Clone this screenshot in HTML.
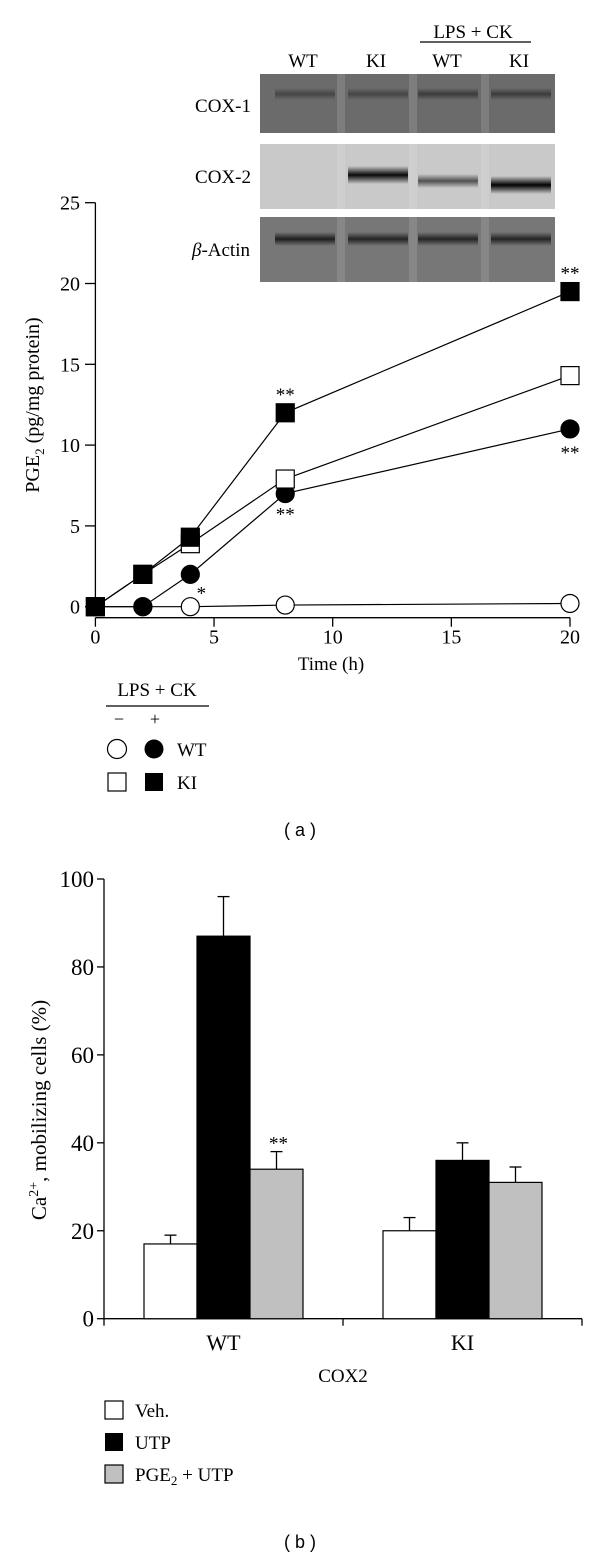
<!DOCTYPE html>
<html><head><meta charset="utf-8"><style>
body{margin:0;background:#fff;}
svg{display:block;font-family:"Liberation Serif",serif;}
</style></head><body>
<svg width="600" height="1563" viewBox="0 0 600 1563">
<defs>
<linearGradient id="lg" x1="0" y1="0" x2="0" y2="1"><stop offset="0" stop-color="#000" stop-opacity="0"/><stop offset="0.5" stop-color="#000" stop-opacity="1"/><stop offset="1" stop-color="#000" stop-opacity="0"/></linearGradient>
<clipPath id="bclip"><rect x="260" y="74" width="295" height="208"/></clipPath>
</defs>
<g id="blots">
<text x="473" y="38" font-size="19" text-anchor="middle">LPS + CK</text>
<line x1="420" y1="42" x2="531" y2="42" stroke="#000" stroke-width="1.2"/>
<text x="303" y="67" font-size="19" text-anchor="middle">WT</text>
<text x="376" y="67" font-size="19" text-anchor="middle">KI</text>
<text x="447" y="67" font-size="19" text-anchor="middle">WT</text>
<text x="519" y="67" font-size="19" text-anchor="middle">KI</text>
<text x="251" y="112" font-size="19" text-anchor="end">COX-1</text>
<text x="251" y="183" font-size="19" text-anchor="end">COX-2</text>
<text x="250" y="256" font-size="19" text-anchor="end"><tspan font-style="italic">β</tspan>-Actin</text>
<rect x="260" y="74" width="295" height="59" fill="#6b6b6b"/>
<rect x="260" y="144" width="295" height="65" fill="#c9c9c9"/>
<rect x="260" y="217" width="295" height="65" fill="#777"/>
<g id="bands" clip-path="url(#bclip)"></g>
</g>
<g id="line-chart"></g>
<g>
<text x="157" y="696" font-size="19" text-anchor="middle">LPS + CK</text>
<line x1="106" y1="706" x2="209" y2="706" stroke="#000" stroke-width="1.2"/>
<text x="119" y="725" font-size="18" text-anchor="middle">−</text>
<text x="155" y="725" font-size="18" text-anchor="middle">+</text>
<circle cx="117" cy="749" r="9.5" fill="#fff" stroke="#000" stroke-width="1.2"/>
<circle cx="154" cy="749" r="9.5" fill="#000"/>
<text x="177" y="756" font-size="19">WT</text>
<rect x="108" y="773" width="18" height="18" fill="#fff" stroke="#000" stroke-width="1.2"/>
<rect x="145" y="773" width="18" height="18" fill="#000"/>
<text x="177" y="789" font-size="19">KI</text>
</g>
<text x="300" y="836" font-size="18" text-anchor="middle" font-family="Liberation Sans, sans-serif">( a )</text>
<g id="bar-chart"></g>
<g>
<rect x="105" y="1401" width="18" height="18" fill="#fff" stroke="#000" stroke-width="1.2"/>
<text x="135" y="1417" font-size="19">Veh.</text>
<rect x="105" y="1433" width="18" height="18" fill="#000"/>
<text x="135" y="1449" font-size="19">UTP</text>
<rect x="105" y="1465" width="18" height="18" fill="#c0c0c0" stroke="#000" stroke-width="1.2"/>
<text x="135" y="1481" font-size="19">PGE<tspan font-size="13" dy="4">2</tspan><tspan dy="-4"> + UTP</tspan></text>
</g>
<text x="300" y="1548" font-size="18" text-anchor="middle" font-family="Liberation Sans, sans-serif">( b )</text>
</svg>
<script>
const NS="http://www.w3.org/2000/svg";
function mk(tag,attrs,parent){const e=document.createElementNS(NS,tag);for(const k in attrs)e.setAttribute(k,attrs[k]);parent.appendChild(e);return e;}
// blot bands
const laneX=[305,378,448,521];
const cox1Int=[0.35,0.35,0.45,0.45];
const cox2Int=[0.08,0.95,0.6,1.0];
const actinInt=[0.75,0.7,0.7,0.7];
const bands=document.getElementById('bands');
function band(cx,y,h,op,name){const b=mk('rect',{x:cx-30,y:y,width:60,height:h,fill:'url(#lg)',opacity:op},bands);

}
laneX.forEach((x,i)=>{band(x,88,12,cox1Int[i],'cox1-band');band(x,[0,176,184,186][i]-10,18-(i==2?4:0),cox2Int[i],'cox2-band');band(x,232,14,actinInt[i],'actin-band');});
[341,413,485].forEach(x=>{mk('rect',{x:x-4,y:74,width:8,height:208,fill:'#fff',opacity:0.12},bands);});

// line chart
const times=[0,2,4,8,20];
const wtVeh=[0,0,0,0.1,0.2];
const wtLps=[0,0,2,7,11];
const kiVeh=[0,2,3.9,7.9,14.3];
const kiLps=[0,2,4.3,12,19.5];
const yTicksA=[0,5,10,15,20,25];
const xTicksA=[0,5,10,15,20];
const lc=document.getElementById('line-chart');
const X=t=>95.4+t*(570-95.4)/20;
const Y=v=>606.7-v*(606.7-202.7)/25;
const AX=Y(0)+11;
let ax=mk('line',{x1:95.4,y1:Y(25),x2:95.4,y2:Y(0),stroke:'#000','stroke-width':1.3},lc);


let axx=mk('line',{x1:95.4,y1:AX,x2:X(20),y2:AX,stroke:'#000','stroke-width':1.3},lc);


yTicksA.forEach(v=>{mk('line',{x1:85,y1:Y(v),x2:95.4,y2:Y(v),stroke:'#000','stroke-width':1.3},lc);
const t=mk('text',{x:80,y:Y(v)+7,'font-size':20,'text-anchor':'end'},lc);t.textContent=v;

});
xTicksA.forEach(v=>{mk('line',{x1:X(v),y1:AX,x2:X(v),y2:AX+9,stroke:'#000','stroke-width':1.3},lc);
const t=mk('text',{x:X(v),y:AX+26,'font-size':20,'text-anchor':'middle'},lc);t.textContent=v;

});
let xt=mk('text',{x:331,y:670,'font-size':19,'text-anchor':'middle'},lc);xt.textContent='Time (h)';


let yt=mk('text',{x:0,y:0,'font-size':20,'text-anchor':'middle',transform:'translate(39,405) rotate(-90)'},lc);
yt.innerHTML='PGE<tspan font-size="13" dy="5">2</tspan><tspan dy="-5"> (pg/mg protein)</tspan>';


function series(vals,shape,fill,name){
 const pts=times.map((t,i)=>X(t)+','+Y(vals[i])).join(' ');
 const pl=mk('polyline',{points:pts,fill:'none',stroke:'#000','stroke-width':1.2},lc);
 
 
 return ()=>times.forEach((t,i)=>{let m;
  if(shape==='c')m=mk('circle',{cx:X(t),cy:Y(vals[i]),r:9,fill:fill,stroke:'#000','stroke-width':1.2},lc);
  else m=mk('rect',{x:X(t)-9,y:Y(vals[i])-9,width:18,height:18,fill:fill,stroke:'#000','stroke-width':1.2},lc);
  
  });
}
const d1=series(wtVeh,'c','#fff','wt-vehicle');
const d2=series(kiVeh,'s','#fff','ki-vehicle');
const d3=series(wtLps,'c','#000','wt-lps-ck');
const d4=series(kiLps,'s','#000','ki-lps-ck');
d1();d3();d2();d4();
function star(x,y,s,name){const t=mk('text',{x:x,y:y,'font-size':19,'text-anchor':'middle'},lc);t.textContent=s;

}
star(X(8),Y(kiLps[3])-12,'**','sig-ki-8h');
star(X(20),Y(kiLps[4])-12,'**','sig-ki-20h');
star(X(8),Y(wtLps[3])+27,'**','sig-wt-8h');
star(X(20),Y(wtLps[4])+30,'**','sig-wt-20h');
star(X(4)+11,Y(wtLps[2])+25,'*','sig-wt-4h');

// bar chart
const groups=['WT','KI'];
const vehVals=[17,20];
const utpVals=[87,36];
const pgeVals=[34,31];
const vehErr=[2,3];
const utpErr=[9,4];
const pgeErr=[4,3.5];
const yTicksB=[0,20,40,60,80,100];
const bc=document.getElementById('bar-chart');
const BY=v=>1318.7-v*(1318.7-879)/100;
const groupStart=[144,383];
const bw=53;
let bax=mk('line',{x1:104,y1:BY(100),x2:104,y2:BY(0),stroke:'#000','stroke-width':1.3},bc);


let bxx=mk('line',{x1:104,y1:BY(0),x2:582,y2:BY(0),stroke:'#000','stroke-width':1.3},bc);


[104,343,582].forEach(x=>mk('line',{x1:x,y1:BY(0),x2:x,y2:BY(0)+7,stroke:'#000','stroke-width':1.3},bc));
yTicksB.forEach(v=>{mk('line',{x1:97,y1:BY(v),x2:104,y2:BY(v),stroke:'#000','stroke-width':1.3},bc);
const t=mk('text',{x:94,y:BY(v)+8,'font-size':23,'text-anchor':'end'},bc);t.textContent=v;

});
const series3=[[vehVals,vehErr,'#fff','veh'],[utpVals,utpErr,'#000','utp'],[pgeVals,pgeErr,'#c0c0c0','pge2-utp']];
groups.forEach((g,gi)=>{
 series3.forEach((s,si)=>{
  const x=groupStart[gi]+si*bw, v=s[0][gi], e=s[1][gi];
  const ex=x+bw/2;
  mk('line',{x1:ex,y1:BY(v),x2:ex,y2:BY(v+e),stroke:'#000','stroke-width':1.3},bc);
  mk('line',{x1:ex-6,y1:BY(v+e),x2:ex+6,y2:BY(v+e),stroke:'#000','stroke-width':1.3},bc);
  const r=mk('rect',{x:x,y:BY(v),width:bw,height:BY(0)-BY(v),fill:s[2],stroke:'#000','stroke-width':1.2},bc);
  
  
 });
 const t=mk('text',{x:groupStart[gi]+1.5*bw,y:1350,'font-size':22,'text-anchor':'middle'},bc);t.textContent=g;
 
 
});
let st=mk('text',{x:groupStart[0]+2.5*bw+2,y:BY(pgeVals[0]+pgeErr[0])-2,'font-size':19,'text-anchor':'middle'},bc);st.textContent='**';


let cx2=mk('text',{x:343,y:1382,'font-size':19,'text-anchor':'middle'},bc);cx2.textContent='COX2';


let byt=mk('text',{x:0,y:0,'font-size':21,'text-anchor':'middle',transform:'translate(46,1110) rotate(-90)'},bc);
byt.innerHTML='Ca<tspan font-size="14" dy="-8">2+</tspan><tspan dy="8">, mobilizing cells (%)</tspan>';


</script>
</body></html>
